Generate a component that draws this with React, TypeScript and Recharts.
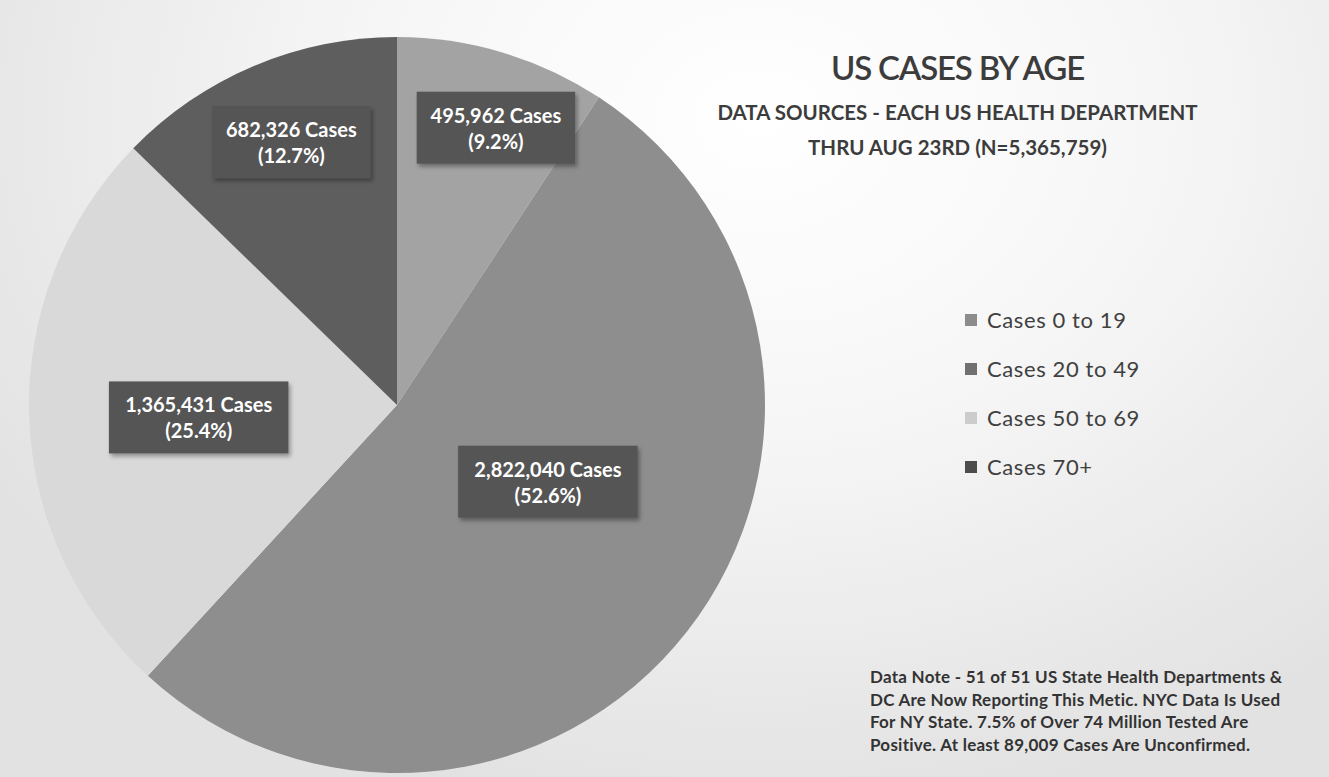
import React from 'react';
import { PieChart, Pie, Cell, Legend } from 'recharts';

const ageGroups = ['Cases 0 to 19', 'Cases 20 to 49', 'Cases 50 to 69', 'Cases 70+'];
const caseCounts = [495962, 2822040, 1365431, 682326];
const sliceColors = ['#a3a3a3', '#8e8e8e', '#d9d9d9', '#5e5e5e'];
const legendColors = ['#8c8c8c', '#707070', '#cccccc', '#4c4c4c'];

const noteLines = [
    'Data Note - 51 of 51 US State Health Departments &',
    'DC Are Now Reporting This Metic. NYC Data Is Used',
    'For NY State. 7.5% of Over 74 Million Tested Are',
    'Positive. At least 89,009 Cases Are Unconfirmed.',
];

const total = caseCounts.reduce((a, b) => a + b, 0);

const data = ageGroups.map((name, i) => ({ name, value: caseCounts[i] }));

// where each data label sits: fraction of radius, and angle nudge (deg, clockwise)
const labelPlace = [
    { r: 0.8, nudge: 3 },
    { r: 0.46, nudge: -11 },
    { r: 0.54, nudge: -2 },
    { r: 0.77, nudge: 1 },
];

const RADIAN = Math.PI / 180;
const font = 'Lato, "Open Sans", sans-serif';

const renderLabel = (props: any) => {
    const { cx, cy, midAngle, outerRadius, index, value } = props;
    const place = labelPlace[index];
    const ang = (midAngle - place.nudge) * RADIAN;
    const r = outerRadius * place.r;
    const x = cx + r * Math.cos(ang);
    const y = cy - r * Math.sin(ang);
    const line1 = `${value.toLocaleString('en-US')} Cases`;
    const line2 = `(${((value / total) * 100).toFixed(1)}%)`;
    const w = line1.length * 10.5 + 22;
    const h = 72;
    return (
        <g key={`lbl-${index}`}>
            {index === 0 && (
                <defs>
                    <filter id="boxShadow" x="-20%" y="-20%" width="140%" height="150%">
                        <feDropShadow dx="2" dy="3" stdDeviation="2" floodColor="#000" floodOpacity="0.35" />
                    </filter>
                </defs>
            )}
            <rect x={x - w / 2} y={y - h / 2} width={w} height={h} fill="#555555" filter="url(#boxShadow)" />
            <text x={x} y={y - 5} textAnchor="middle" fill="#ffffff" fontFamily={font} fontWeight={700} fontSize={20}>
                {line1}
            </text>
            <text x={x} y={y + 21} textAnchor="middle" fill="#ffffff" fontFamily={font} fontWeight={700} fontSize={20}>
                {line2}
            </text>
        </g>
    );
};

const renderLegend = () => (
    <div style={{ fontFamily: font }}>
        {ageGroups.map((g, i) => (
            <div
                key={g}
                style={{ display: 'flex', alignItems: 'center', height: 49, color: '#404040', fontSize: 22, letterSpacing: 0.6 }}
            >
                <span style={{ display: 'inline-block', width: 12, height: 12, background: legendColors[i], marginRight: 10 }} />
                {g}
            </div>
        ))}
    </div>
);

export default function App() {
    return (
        <div
            style={{
                position: 'absolute',
                left: 0,
                top: 0,
                width: 1329,
                height: 777,
                overflow: 'hidden',
                background: 'radial-gradient(ellipse 900px 700px at 760px 120px, #ffffff 0%, #f6f6f6 45%, #e2e2e2 100%)',
            }}
        >
            <PieChart width={1329} height={777}>
                <Pie
                    data={data}
                    dataKey="value"
                    nameKey="name"
                    cx={392}
                    cy={400}
                    outerRadius={368}
                    startAngle={90}
                    endAngle={-270}
                    stroke="none"
                    label={renderLabel}
                    labelLine={false}
                    isAnimationActive={false}
                >
                    {data.map((d, i) => (
                        <Cell key={d.name} fill={sliceColors[i]} />
                    ))}
                </Pie>
                <Legend
                    layout="vertical"
                    content={renderLegend}
                    wrapperStyle={{ position: 'absolute', left: 965, top: 295, width: 240 }}
                />
            </PieChart>
            <div
                style={{
                    position: 'absolute',
                    left: 700,
                    width: 515,
                    top: 45,
                    textAlign: 'center',
                    fontFamily: font,
                    color: '#3c3c3c',
                }}
            >
                <div style={{ fontSize: 33, lineHeight: '44px', fontWeight: 600, letterSpacing: -1.2 }}>US CASES BY AGE</div>
                <div style={{ fontSize: 20.5, lineHeight: '35px', fontWeight: 700, marginTop: 6 }}>
                    DATA SOURCES - EACH US HEALTH DEPARTMENT
                </div>
                <div style={{ fontSize: 20.5, lineHeight: '35px', fontWeight: 700 }}>THRU AUG 23RD (N=5,365,759)</div>
            </div>
            <div
                style={{
                    position: 'absolute',
                    left: 870,
                    top: 666,
                    fontFamily: font,
                    fontWeight: 700,
                    fontSize: 17,
                    letterSpacing: 0.25,
                    lineHeight: '22.5px',
                    color: '#333333',
                    whiteSpace: 'nowrap',
                }}
            >
                {noteLines.map((l) => (
                    <div key={l}>{l}</div>
                ))}
            </div>
        </div>
    );
}
